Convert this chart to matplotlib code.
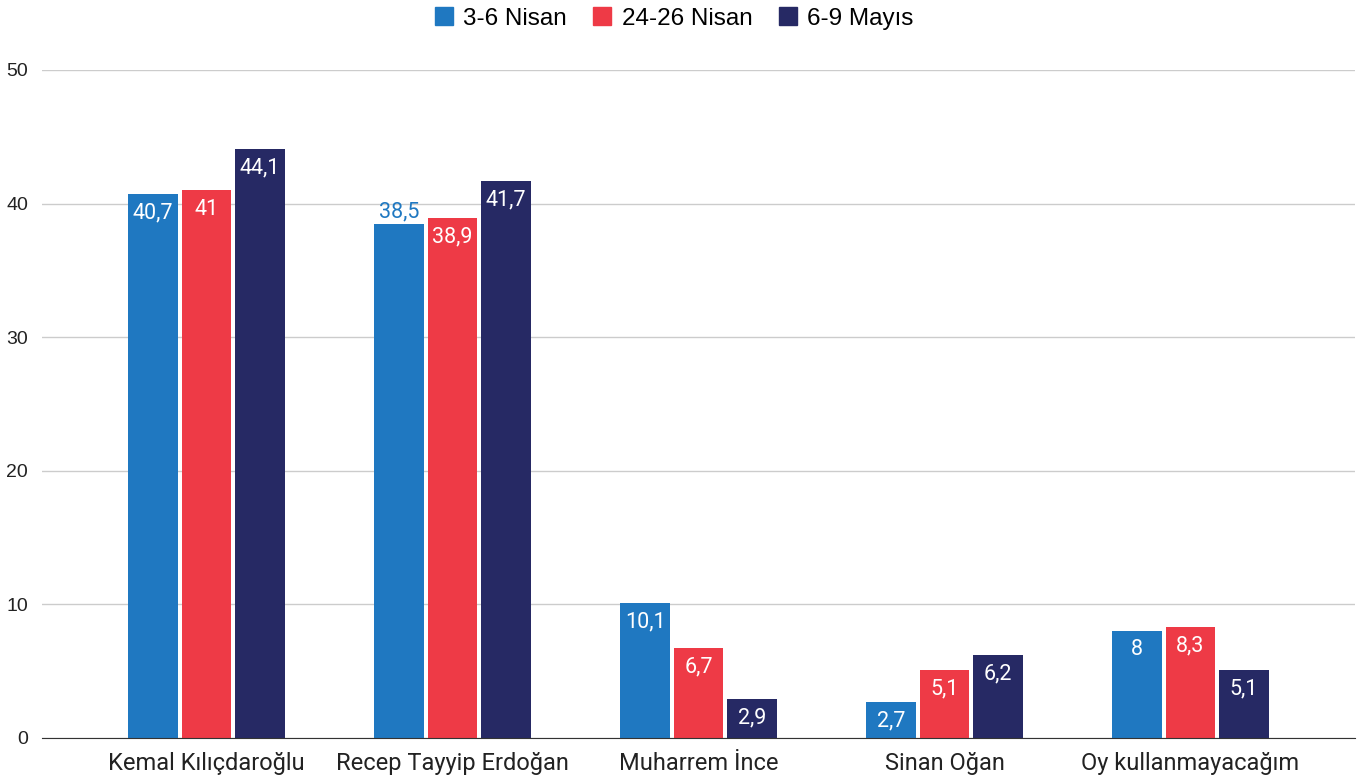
import numpy as np
import matplotlib
matplotlib.use("Agg")
import matplotlib.pyplot as plt
from matplotlib.lines import Line2D

categories = ["Kemal Kılıçdaroğlu", "Recep Tayyip Erdoğan", "Muharrem İnce", "Sinan Oğan", "Oy kullanmayacağım"]
series_names = ["3-6 Nisan", "24-26 Nisan", "6-9 Mayıs"]
nisan_3_6 = [40.7, 38.5, 10.1, 2.7, 8.0]
nisan_24_26 = [41.0, 38.9, 6.7, 5.1, 8.3]
mayis_6_9 = [44.1, 41.7, 2.9, 6.2, 5.1]
colors = ["#1f78c1", "#ee3a46", "#262964"]
yticks = [0, 10, 20, 30, 40, 50]

series = [nisan_3_6, nisan_24_26, mayis_6_9]

fig = plt.figure(figsize=(13.63, 7.84), dpi=100)
ax = fig.add_axes([42 / 1363, 46 / 784, 1313 / 1363, 668 / 784])

x = np.arange(len(categories))
bw = 0.203
step = 0.217

for i, (vals, col) in enumerate(zip(series, colors)):
    pos = x + (i - 1) * step
    ax.bar(pos, vals, width=bw, color=col, zorder=3)
    for px, v in zip(pos, vals):
        txt = f"{v:g}".replace(".", ",")
        # label does not fit inside for this one in the original
        if i == 0 and v == 38.5:
            ax.annotate(txt, (px, v), xytext=(0, 1), textcoords="offset points",
                        ha="center", va="bottom", color=col, fontsize=15.5,
                        family="Roboto")
        else:
            ax.annotate(txt, (px, v), xytext=(0, -6), textcoords="offset points",
                        ha="center", va="top", color="white", fontsize=15.5,
                        family="Roboto")

ax.set_xlim(-0.5 - 41.5 / 246, len(categories) - 0.5 + 41.5 / 246)
ax.set_ylim(0, 50)
ax.set_yticks(yticks)
ax.set_yticklabels([str(t) for t in yticks], family="Liberation Sans", fontsize=14)
ax.set_xticks(x)
ax.set_xticklabels(categories, family="Roboto", fontsize=17)
ax.tick_params(axis="both", length=0, colors="#222222")
ax.tick_params(axis="y", pad=10)
ax.tick_params(axis="x", pad=10)
ax.grid(axis="y", color="#cccccc", linewidth=1, zorder=0)
for s in ["top", "right", "left"]:
    ax.spines[s].set_visible(False)
ax.spines["bottom"].set_color("#333333")
ax.spines["bottom"].set_zorder(4)

handles = [Line2D([], [], marker="s", linestyle="none", markersize=13,
                  markerfacecolor=c, markeredgecolor=c) for c in colors]
fig.legend(handles, series_names, loc="upper center", bbox_to_anchor=(0.4925, 1.018),
           ncol=3, frameon=False, prop={"family": "Liberation Sans", "size": 17.5},
           handletextpad=0.2, columnspacing=0.85, handlelength=1.2)

fig.savefig("out.png", dpi=100)
